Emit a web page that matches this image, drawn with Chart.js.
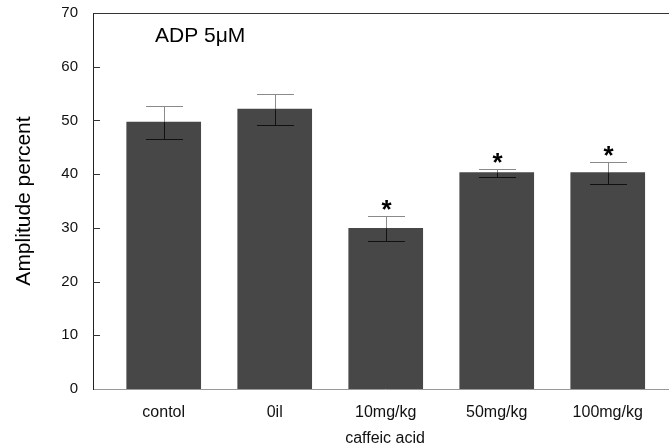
<!DOCTYPE html>
<html>
<head>
<meta charset="utf-8">
<script src="https://cdn.jsdelivr.net/npm/chart.js@4"></script>
<style>
  html, body { margin: 0; padding: 0; background: #fff; overflow: hidden; }
  #wrap { width: 680px; height: 459px; margin-top: -11px; }
</style>
</head>
<body>
<div id="wrap"><canvas id="chart"></canvas></div>
<script>
// groups and values
const groups = ["contol", "0il", "10mg/kg", "50mg/kg", "100mg/kg"];
const amplitude = [49.7, 52.1, 29.9, 40.3, 40.3];
const errUpper = [52.6, 54.9, 32.3, 40.9, 42.3];
const errLower = [46.6, 49.2, 27.6, 39.4, 38.2];
const marked = [false, false, true, true, true];
const yTicks = [0, 10, 20, 30, 40, 50, 60, 70];

const font = "'Liberation Sans', Arial, sans-serif";

// error bars, stars, inner ticks, top border and the label
const extras = {
  id: "extras",
  afterDatasetsDraw(chart) {
    const ctx = chart.ctx;
    const xs = chart.scales.x, ys = chart.scales.y;
    const area = chart.chartArea;
    ctx.save();
    ctx.lineWidth = 1;
    groups.forEach((g, i) => {
      const x = Math.round(xs.getPixelForValue(i)) + 0.5;
      const top = ys.getPixelForValue(amplitude[i]);
      const hi = Math.round(ys.getPixelForValue(errUpper[i])) + 0.5;
      const lo = Math.round(ys.getPixelForValue(errLower[i])) + 0.5;
      const half = 18.5;
      // part above the bar
      ctx.strokeStyle = "#8a8a8a";
      ctx.beginPath();
      ctx.moveTo(x, hi); ctx.lineTo(x, top);
      ctx.moveTo(x - half, hi); ctx.lineTo(x + half, hi);
      ctx.stroke();
      // part inside the bar
      ctx.strokeStyle = "#111";
      ctx.beginPath();
      ctx.moveTo(x, top); ctx.lineTo(x, lo);
      ctx.moveTo(x - half, lo); ctx.lineTo(x + half, lo);
      ctx.stroke();
      if (marked[i]) {
        ctx.fillStyle = "#000";
        ctx.font = "bold 26px " + font;
        ctx.textAlign = "center";
        ctx.textBaseline = "alphabetic";
        ctx.fillText("*", x, hi + 1);
      }
    });
    // inward ticks on the y axis
    ctx.strokeStyle = "#333";
    yTicks.forEach(v => {
      if (v === 0 || v === 70) return;
      const y = Math.round(ys.getPixelForValue(v)) + 0.5;
      ctx.beginPath();
      ctx.moveTo(area.left, y); ctx.lineTo(area.left + 7, y);
      ctx.stroke();
    });
    // top frame line
    ctx.strokeStyle = "#333";
    ctx.beginPath();
    ctx.moveTo(area.left, Math.round(area.top) + 0.5);
    ctx.lineTo(area.right, Math.round(area.top) + 0.5);
    ctx.stroke();
    // label inside the plot
    ctx.fillStyle = "#000";
    ctx.font = "21px " + font;
    ctx.textAlign = "left";
    ctx.textBaseline = "middle";
    ctx.fillText("ADP 5\u03bcM", area.left + 62, area.top + 23);
    ctx.restore();
  }
};

new Chart(document.getElementById("chart"), {
  type: "bar",
  data: {
    datasets: [{
      data: groups.map((g, i) => ({ x: i, y: amplitude[i] })),
      backgroundColor: "#474747",
      borderWidth: 0,
      barThickness: 74
    }]
  },
  options: {
    responsive: true,
    maintainAspectRatio: false,
    animation: false,
    layout: { padding: { top: 4, right: 3, left: 0, bottom: 0 } },
    plugins: { legend: { display: false }, tooltip: { enabled: false } },
    scales: {
      x: {
        type: "linear",
        offset: false,
        min: -0.637,
        max: 4.624,
        afterBuildTicks: s => { s.ticks = groups.map((g, i) => ({ value: i })); },
        afterFit: s => { s.height = 59; },
        grid: { display: false, drawTicks: false, offset: false },
        border: { color: "#999", width: 1 },
        ticks: {
          callback: v => groups[v],
          color: "#111",
          font: { family: font, size: 16 },
          padding: 14,
          maxRotation: 0,
          autoSkip: false
        },
        title: {
          display: true,
          text: "caffeic acid",
          color: "#111",
          font: { family: font, size: 16 },
          padding: { top: 0, bottom: 0 }
        }
      },
      y: {
        min: 0,
        max: 70,
        afterBuildTicks: s => { s.ticks = yTicks.map(v => ({ value: v })); },
        afterFit: s => { s.width = 93; },
        grid: { display: false, drawTicks: false },
        border: { color: "#222", width: 1 },
        ticks: {
          color: "#111",
          font: { family: font, size: 15 },
          padding: 15
        },
        title: {
          display: true,
          text: "Amplitude percent",
          color: "#000",
          font: { family: font, size: 21 },
          padding: { top: 12, bottom: 0 }
        }
      }
    }
  },
  plugins: [extras]
});
</script>
</body>
</html>
